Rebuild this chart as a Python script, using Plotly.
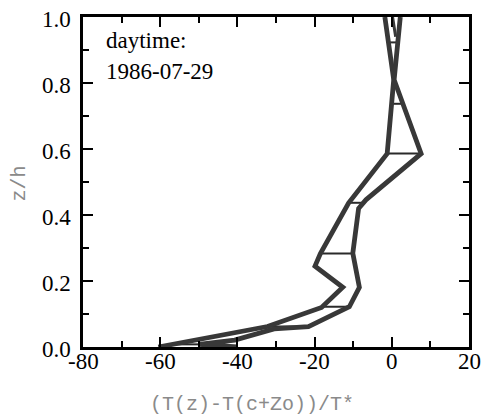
import numpy as np
import plotly.graph_objects as go

# Left (lower-value) profile
left_z = [0.0, 0.062, 0.12, 0.181, 0.245, 0.283, 0.436, 0.586, 0.81, 1.0]
left_x = [-60.5, -32.2, -18.2, -12.7, -19.9, -18.5, -11.2, -1.2, 0.5, -1.8]

# Right (higher-value) profile
right_z = [0.0, 0.008, 0.021, 0.055, 0.062, 0.122, 0.181, 0.284, 0.42, 0.446, 0.586, 0.81, 1.0]
right_x = [-40.0, -50.0, -40.7, -30.5, -21.6, -11.0, -8.4, -10.1, -8.6, -6.7, 7.6, 0.6, 2.2]

# short extra segment near the top
top_z = [0.94, 1.0]
top_x = [1.0, 0.2]

# levels with horizontal connectors
rung_z = [0.008, 0.062, 0.122, 0.283, 0.437, 0.586, 0.737, 0.923]

x_ticks = [-80, -60, -40, -20, 0, 20]
x_labels = ["-80", "-60", "-40", "-20", "0", "20"]
x_minor = [-70, -50, -30, -10, 10]
y_ticks = [0.0, 0.2, 0.4, 0.6, 0.8, 1.0]
y_labels = ["0.0", "0.2", "0.4", "0.6", "0.8", "1.0"]
y_minor = [0.1, 0.3, 0.5, 0.7, 0.9]

line_col = "#383838"

rx, ry = [], []
for z in rung_z:
    a = float(np.interp(z, left_z, left_x))
    b = float(np.interp(z, right_z, right_x))
    rx += [a, b, None]
    ry += [z, z, None]

fig = go.Figure()
fig.add_trace(go.Scatter(x=rx, y=ry, mode="lines",
                         line=dict(color="#2a2a2a", width=2), showlegend=False))
fig.add_trace(go.Scatter(x=left_x, y=left_z, mode="lines",
                         line=dict(color=line_col, width=4.8), showlegend=False))
fig.add_trace(go.Scatter(x=right_x, y=right_z, mode="lines",
                         line=dict(color=line_col, width=4.8), showlegend=False))
fig.add_trace(go.Scatter(x=top_x, y=top_z, mode="lines",
                         line=dict(color=line_col, width=3), showlegend=False))
fig.add_trace(go.Scatter(x=[None], y=[None], xaxis="x2", yaxis="y2",
                         mode="lines", showlegend=False, hoverinfo="skip"))

SERIF = "Liberation Serif"
tf = dict(family=SERIF, size=23, color="black")

fig.update_layout(
    width=484, height=417,
    font=dict(family=SERIF, size=23, color="black"),
    margin=dict(l=83, r=12, t=17, b=70),
    paper_bgcolor="white", plot_bgcolor="white",
    xaxis=dict(range=[-80, 20], tickmode="array", tickvals=x_ticks,
               showticklabels=False, showline=True, linewidth=2.5, linecolor="black",
               mirror="ticks", ticks="inside", ticklen=10, tickwidth=2,
               tickcolor="black", showgrid=False, zeroline=False),
    yaxis=dict(range=[0, 1], tickmode="array", tickvals=y_ticks,
               showticklabels=False, showline=True, linewidth=2.5, linecolor="black",
               mirror="ticks", ticks="inside", ticklen=10, tickwidth=2,
               tickcolor="black", showgrid=False, zeroline=False),
    xaxis2=dict(overlaying="x", anchor="y", range=[-80, 20], tickmode="array",
                tickvals=x_minor, showticklabels=False, ticks="inside", ticklen=6,
                tickwidth=2, tickcolor="black", mirror="ticks", showline=False,
                showgrid=False, zeroline=False),
    yaxis2=dict(overlaying="y", anchor="x", range=[0, 1], tickmode="array",
                tickvals=y_minor, showticklabels=False, ticks="inside", ticklen=6,
                tickwidth=2, tickcolor="black", mirror="ticks", showline=False,
                showgrid=False, zeroline=False),
)

# tick labels as text placed through the axis scales
for v, lab in zip(x_ticks, x_labels):
    fig.add_annotation(text=lab, xref="x", yref="paper", x=v, y=-0.045,
                       xanchor="center", yanchor="middle", showarrow=False, font=tf)
for v, lab in zip(y_ticks, y_labels):
    fig.add_annotation(text=lab, xref="paper", yref="y", x=-0.026, y=v, yshift=-2,
                       xanchor="right", yanchor="middle", showarrow=False, font=tf)

fig.add_annotation(text="daytime:", xref="paper", yref="paper", x=0.055, y=0.928,
                   xanchor="left", yanchor="middle", showarrow=False, font=tf)
fig.add_annotation(text="1986-07-29", xref="paper", yref="paper", x=0.055, y=0.835,
                   xanchor="left", yanchor="middle", showarrow=False, font=tf)

mono = dict(family="Liberation Mono", size=20, color="#8a8a8a")
fig.add_annotation(text="(T(z)-T(c+Zo))/T*", xref="paper", yref="paper",
                   x=(253 - 83) / 389, y=(347 - 404) / 330,
                   xanchor="center", yanchor="middle", showarrow=False, font=mono)
fig.add_annotation(text="z/h", xref="paper", yref="paper",
                   x=(19 - 83) / 389, y=(347 - 183) / 330, textangle=-90,
                   xanchor="center", yanchor="middle", showarrow=False, font=mono)

fig.write_html("out.html")
